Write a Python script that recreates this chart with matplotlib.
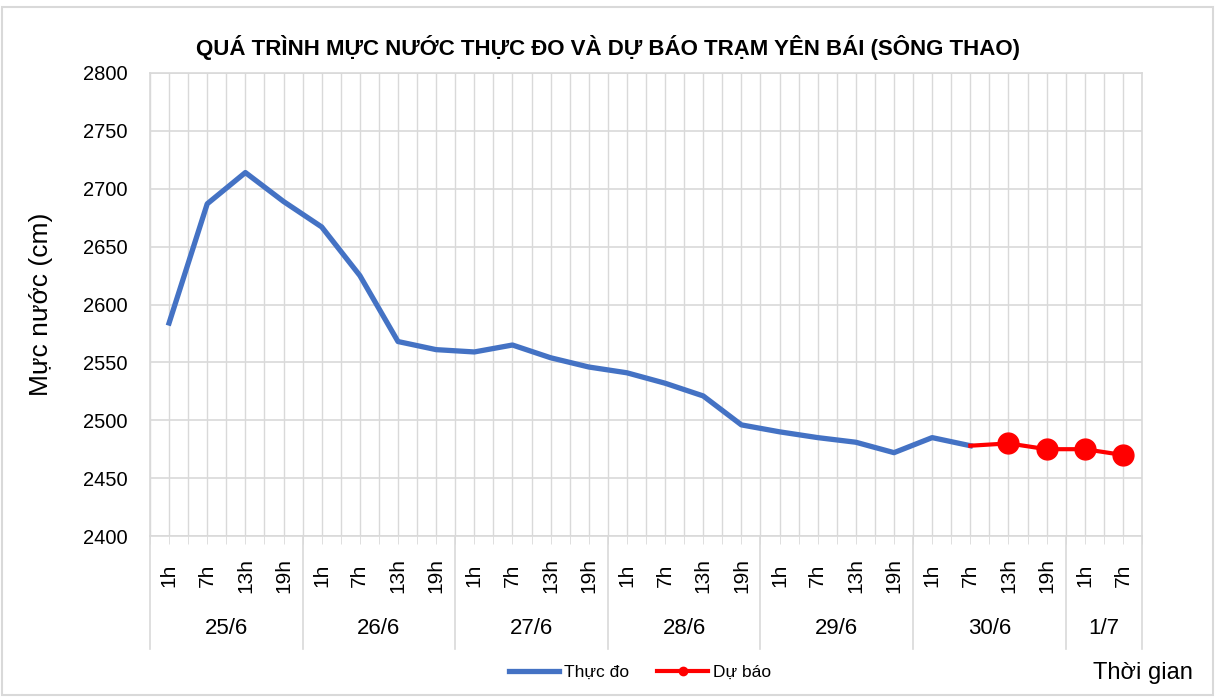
import numpy as np
import matplotlib
matplotlib.use('Agg')
import matplotlib.pyplot as plt
from matplotlib.lines import Line2D
from matplotlib.patches import Rectangle

plt.rcParams['font.family'] = ['Liberation Sans Narrow', 'Liberation Sans', 'DejaVu Sans']

days = ['25/6', '26/6', '27/6', '28/6', '29/6', '30/6', '1/7']
hours_per_day = [['1h', '7h', '13h', '19h']] * 6 + [['1h', '7h']]
hours = [h for group in hours_per_day for h in group]

# measured water level (cm)
observed = [2584, 2687, 2714, 2689, 2667, 2625, 2568, 2561,
            2559, 2565, 2554, 2546, 2541, 2532, 2521, 2496,
            2490, 2485, 2481, 2472, 2485, 2478]
# forecast, starts at last observed point
forecast = [2478, 2480, 2475, 2475, 2470]

n = len(hours)
x = np.arange(n)
x_obs = x[:len(observed)]
x_fc = x[len(observed) - 1:len(observed) - 1 + len(forecast)]

fig = plt.figure(figsize=(12.17, 6.98), dpi=100)
ax = fig.add_axes([150 / 1217, 162 / 698, 992 / 1217, 463 / 698])

grid_c = '#d9d9d9'
ax.set_xlim(-0.5, n - 0.5)
ax.set_ylim(2400, 2800)
ax.set_yticks(np.arange(2400, 2801, 50))
ax.set_xticks(np.arange(-0.5, n, 0.5), minor=True)
ax.set_xticks([])
ax.grid(True, which='major', axis='y', color=grid_c, lw=1.2)
ax.grid(True, which='minor', axis='x', color=grid_c, lw=1.0)
ax.tick_params(axis='y', length=0, labelsize=14.5, pad=16)
ax.tick_params(axis='x', which='minor', length=6, direction='out', color=grid_c, labelbottom=False)
for s in ax.spines.values():
    s.set_color(grid_c)
    s.set_linewidth(1.2)

ax.plot(x_obs, observed, color='#4472c4', lw=3.8, solid_joinstyle='round', zorder=3)
ax.plot(x_fc, forecast, color='#ff0000', lw=3.0, marker='o', ms=15,
        markevery=list(range(1, len(forecast))), zorder=4)

ax.set_ylabel('Mực nước (cm)', fontsize=19, labelpad=22)
fig.text(0.5, 651 / 698, 'QUÁ TRÌNH MỰC NƯỚC THỰC ĐO VÀ DỰ BÁO TRẠM YÊN BÁI (SÔNG THAO)',
         ha='center', va='center', fontsize=16, fontweight='bold')

# category label table below axis
trans = ax.get_xaxis_transform()
for i, h in enumerate(hours):
    ax.text(i, -0.085, h, transform=trans, rotation=90, ha='center', va='center',
            fontsize=15, clip_on=False)
start = 0
bounds = [-0.5]
for d, grp in zip(days, hours_per_day):
    mid = start + (len(grp) - 1) / 2
    ax.text(mid, -0.2, d, transform=trans, ha='center', va='center', fontsize=16, clip_on=False)
    start += len(grp)
    bounds.append(start - 0.5)
for b in bounds:
    ax.add_line(Line2D([b, b], [0, -0.245], transform=trans, color=grid_c, lw=1.2, clip_on=False))

fig.text(1143 / 1217, 25 / 698, 'Thời gian', ha='center', va='center', fontsize=17)

handles = [Line2D([], [], color='#4472c4', lw=3.8),
           Line2D([], [], color='#ff0000', lw=3.0, marker='o', ms=6)]
fig.legend(handles, ['Thực đo', 'Dự báo'], loc='center', bbox_to_anchor=(640 / 1217, 26 / 698),
           ncol=2, frameon=False, fontsize=12.5, handlelength=2.9, columnspacing=1.6, handletextpad=0.3)

fig.add_artist(Rectangle((2 / 1217, 3 / 698), 1211 / 1217, 688 / 698, transform=fig.transFigure,
                         fill=False, edgecolor='#d9d9d9', lw=1.5))

fig.savefig('out.png', dpi=100)
